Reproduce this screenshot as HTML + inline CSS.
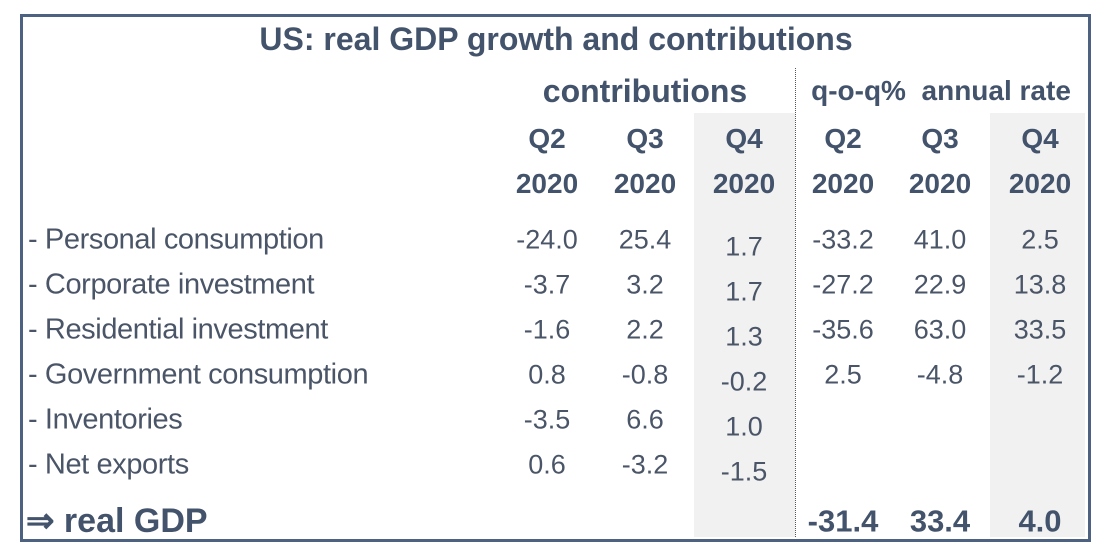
<!DOCTYPE html>
<html><head><meta charset="utf-8"><style>
body{margin:0;background:#fff;width:1114px;height:557px;overflow:hidden;position:relative;font-family:"Liberation Sans",sans-serif;color:#4a5568}
.t{position:absolute;white-space:nowrap;line-height:1;transform:translate(-50%,-50%)}
.l{position:absolute;white-space:nowrap;line-height:1;transform:translateY(-50%);font-size:29px;letter-spacing:-0.4px}
.h{font-weight:bold;font-size:28px;color:#43536b}
.v{font-size:27px}
</style></head><body>
<div style="position:absolute;left:20px;top:14px;width:1065px;height:522px;border:3px solid #4d6180"></div>
<div style="position:absolute;left:694px;top:113px;width:101px;height:424px;background:#f1f1f1"></div>
<div style="position:absolute;left:990px;top:113px;width:95px;height:424px;background:#f1f1f1"></div>
<div style="position:absolute;left:795px;top:68px;width:0;height:469px;border-left:1.5px dotted #555"></div>
<div class="t h" style="left:556px;top:39px;font-size:32px">US: real GDP growth and contributions</div>
<div class="t h" style="left:645px;top:91px;font-size:32px">contributions</div>
<div class="t h" style="left:941px;top:91px;font-size:28px">q-o-q%&nbsp; annual rate</div>
<script>
const quarters=["Q2","Q3","Q4","Q2","Q3","Q4"];
const years=["2020","2020","2020","2020","2020","2020"];
const rowLabels=["- Personal consumption","- Corporate investment","- Residential investment","- Government consumption","- Inventories","- Net exports"];
const contribQ2=["-24.0","-3.7","-1.6","0.8","-3.5","0.6"];
const contribQ3=["25.4","3.2","2.2","-0.8","6.6","-3.2"];
const contribQ4=["1.7","1.7","1.3","-0.2","1.0","-1.5"];
const annualQ2=["-33.2","-27.2","-35.6","2.5","",""];
const annualQ3=["41.0","22.9","63.0","-4.8","",""];
const annualQ4=["2.5","13.8","33.5","-1.2","",""];
const gdpAnnual=["-31.4","33.4","4.0"];
const colX=[547,645,744,843,940,1040];
const rowY0=240,rowStep=45,gdpY=521;
const root=document.body;
function mk(cls,txt,x,y,name,extra){const d=document.createElement('div');d.className=cls;d.textContent=txt;d.style.left=x+'px';d.style.top=y+'px';if(extra)d.style.cssText+=extra;


root.appendChild(d);return d;}
quarters.forEach((q,i)=>{mk('t h',q,colX[i],139,'quarter-header-'+i);mk('t h',years[i],colX[i],184,'year-header-'+i);});
const cols=[contribQ2,contribQ3,contribQ4,annualQ2,annualQ3,annualQ4];
rowLabels.forEach((lab,r)=>{const y=rowY0+r*rowStep;mk('l',lab,28,y,'row-label-'+r);
cols.forEach((c,ci)=>{if(c[r]!=='')mk('t v',c[r],colX[ci],y+(ci===2?7:0),'cell-'+r+'-'+ci);});});
mk('l','⇒ real GDP',26,gdpY,'gdp-label','font-weight:bold;font-size:34px;color:#43536b;letter-spacing:0');
gdpAnnual.forEach((v,i)=>mk('t h',v,colX[i+3],gdpY,'gdp-value-'+i,'font-size:31px'));
</script>
</body></html>
